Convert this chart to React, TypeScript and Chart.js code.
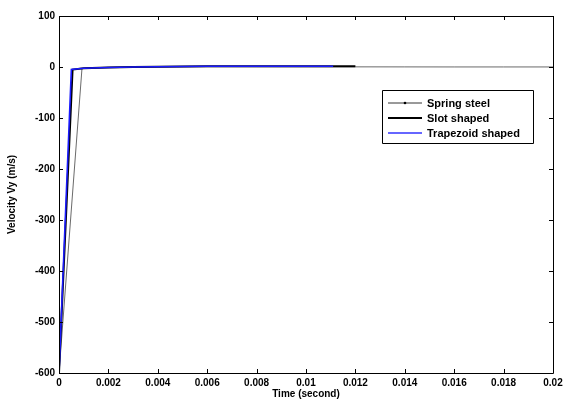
import React, { useEffect, useRef } from "react";
import { Chart, registerables } from "chart.js";

Chart.register(...registerables);

const springTime = [0, 0.00093, 0.0015, 0.002, 0.003, 0.004, 0.005, 0.006, 0.008, 0.01, 0.012, 0.014, 0.016, 0.018, 0.02];
const springVel = [-600, -3, -1.5, -0.8, 0, 0.3, 0.5, 0.6, 0.5, 0.4, 0.3, 0.2, 0.1, 0.1, 0.1];

const slotTime = [0, 0.00055, 0.001, 0.002, 0.003, 0.004, 0.005, 0.006, 0.008, 0.01, 0.012];
const slotVel = [-600, -5, -2.5, -1, 0, 0.5, 1, 1.5, 1.5, 1.5, 1.5];

const trapTime = [0, 0.0005, 0.001, 0.002, 0.003, 0.004, 0.005, 0.006, 0.008, 0.01, 0.0111];
const trapVel = [-600, -5, -2.5, -1, 0, 0.5, 1, 1.5, 1.5, 1.5, 1.5];

const legendLabels = ["Spring steel", "Slot shaped", "Trapezoid shaped"];
const xTitle = "Time (second)";
const yTitle = "Velocity Vy (m/s)";

const toPts = (xs: number[], ys: number[]) => xs.map((x, i) => ({ x, y: ys[i] }));

const FONT = "'Liberation Sans', Arial, sans-serif";

const framePlugin = {
  id: "frame",
  afterDraw(chart: any) {
    const { ctx, chartArea } = chart;
    const { left, right, top, bottom } = chartArea;
    const xs = chart.scales.x;
    const ys = chart.scales.y;
    ctx.save();
    ctx.strokeStyle = "#000";
    ctx.lineWidth = 1;
    ctx.beginPath();
    ctx.rect(Math.round(left) + 0.5, Math.round(top) + 0.5, Math.round(right - left), Math.round(bottom - top));
    ctx.stroke();
    const tl = 4;
    ctx.beginPath();
    xs.ticks.forEach((t: any) => {
      const px = Math.round(xs.getPixelForValue(t.value)) + 0.5;
      ctx.moveTo(px, bottom);
      ctx.lineTo(px, bottom - tl);
      ctx.moveTo(px, top);
      ctx.lineTo(px, top + tl);
    });
    ys.ticks.forEach((t: any) => {
      const py = Math.round(ys.getPixelForValue(t.value)) + 0.5;
      ctx.moveTo(left, py);
      ctx.lineTo(left + tl, py);
      ctx.moveTo(right, py);
      ctx.lineTo(right - tl, py);
    });
    ctx.stroke();

    // axis titles
    ctx.fillStyle = "#000";
    ctx.font = "bold 10px " + FONT;
    ctx.textAlign = "center";
    ctx.textBaseline = "middle";
    ctx.fillText(xTitle, (left + right) / 2, 394);
    ctx.save();
    ctx.translate(12, (top + bottom) / 2);
    ctx.rotate(-Math.PI / 2);
    ctx.fillText(yTitle, 0, 0);
    ctx.restore();

    // legend
    const lx = 382, ly = 90, lw = 151, lh = 53;
    ctx.fillStyle = "#fff";
    ctx.fillRect(lx, ly, lw, lh);
    ctx.beginPath();
    ctx.rect(lx + 0.5, ly + 0.5, lw, lh);
    ctx.stroke();
    const colors = ["#000", "#000", "#3333ff"];
    const widths = [0.8, 2, 1.5];
    ctx.font = "bold 11px " + FONT;
    ctx.textAlign = "left";
    legendLabels.forEach((lab, i) => {
      const y = ly + 13 + i * 15;
      ctx.strokeStyle = colors[i];
      ctx.lineWidth = widths[i];
      ctx.beginPath();
      ctx.moveTo(388, y);
      ctx.lineTo(422, y);
      ctx.stroke();
      if (i === 0) {
        ctx.fillStyle = "#000";
        ctx.beginPath();
        ctx.arc(405, y, 1.3, 0, Math.PI * 2);
        ctx.fill();
      }
      ctx.fillStyle = "#000";
      ctx.fillText(lab, 427, y + 1);
    });
    ctx.restore();
  },
};

export default function App() {
  const ref = useRef<HTMLCanvasElement | null>(null);
  useEffect(() => {
    document.body.style.margin = "0";
    const chart = new Chart(ref.current as HTMLCanvasElement, {
      type: "scatter",
      data: {
        datasets: [
          {
            label: legendLabels[0],
            data: toPts(springTime, springVel),
            showLine: true,
            borderColor: "#444",
            backgroundColor: "#000",
            borderWidth: 0.8,
            pointRadius: 0,
            order: 2,
          },
          {
            label: legendLabels[1],
            data: toPts(slotTime, slotVel),
            showLine: true,
            borderColor: "#000",
            borderWidth: 2,
            pointRadius: 0,
            order: 1,
          },
          {
            label: legendLabels[2],
            data: toPts(trapTime, trapVel),
            showLine: true,
            borderColor: "#1a1aff",
            borderWidth: 1.6,
            pointRadius: 0,
            order: 0,
          },
        ],
      },
      options: {
        animation: false,
        responsive: false,
        layout: { padding: { left: 0, right: 10, top: 16, bottom: 0 } },
        plugins: { legend: { display: false }, tooltip: { enabled: false } },
        scales: {
          x: {
            type: "linear",
            min: 0,
            max: 0.02,
            grid: { display: false, drawTicks: false },
            border: { display: false },
            ticks: {
              stepSize: 0.002,
              padding: 4,
              color: "#000",
              font: { family: FONT, size: 10, weight: "bold" },
              maxRotation: 0,
              autoSkip: false,
              callback: (v: any) => String(Number(Number(v).toFixed(4))),
            },
            afterFit: (s: any) => {
              s.height = 32;
              s.paddingLeft = 0;
              s.paddingRight = 0;
            },
          },
          y: {
            min: -600,
            max: 100,
            grid: { display: false, drawTicks: false },
            border: { display: false },
            ticks: {
              stepSize: 100,
              padding: 4,
              color: "#000",
              font: { family: FONT, size: 10, weight: "bold" },
            },
            afterFit: (s: any) => {
              s.width = 59;
              s.paddingTop = 0;
              s.paddingBottom = 0;
            },
          },
        },
      },
      plugins: [framePlugin],
    } as any);
    return () => chart.destroy();
  }, []);
  return (
    <div style={{ width: 563, height: 405 }}>
      <canvas ref={ref} width={563} height={405} />
    </div>
  );
}
